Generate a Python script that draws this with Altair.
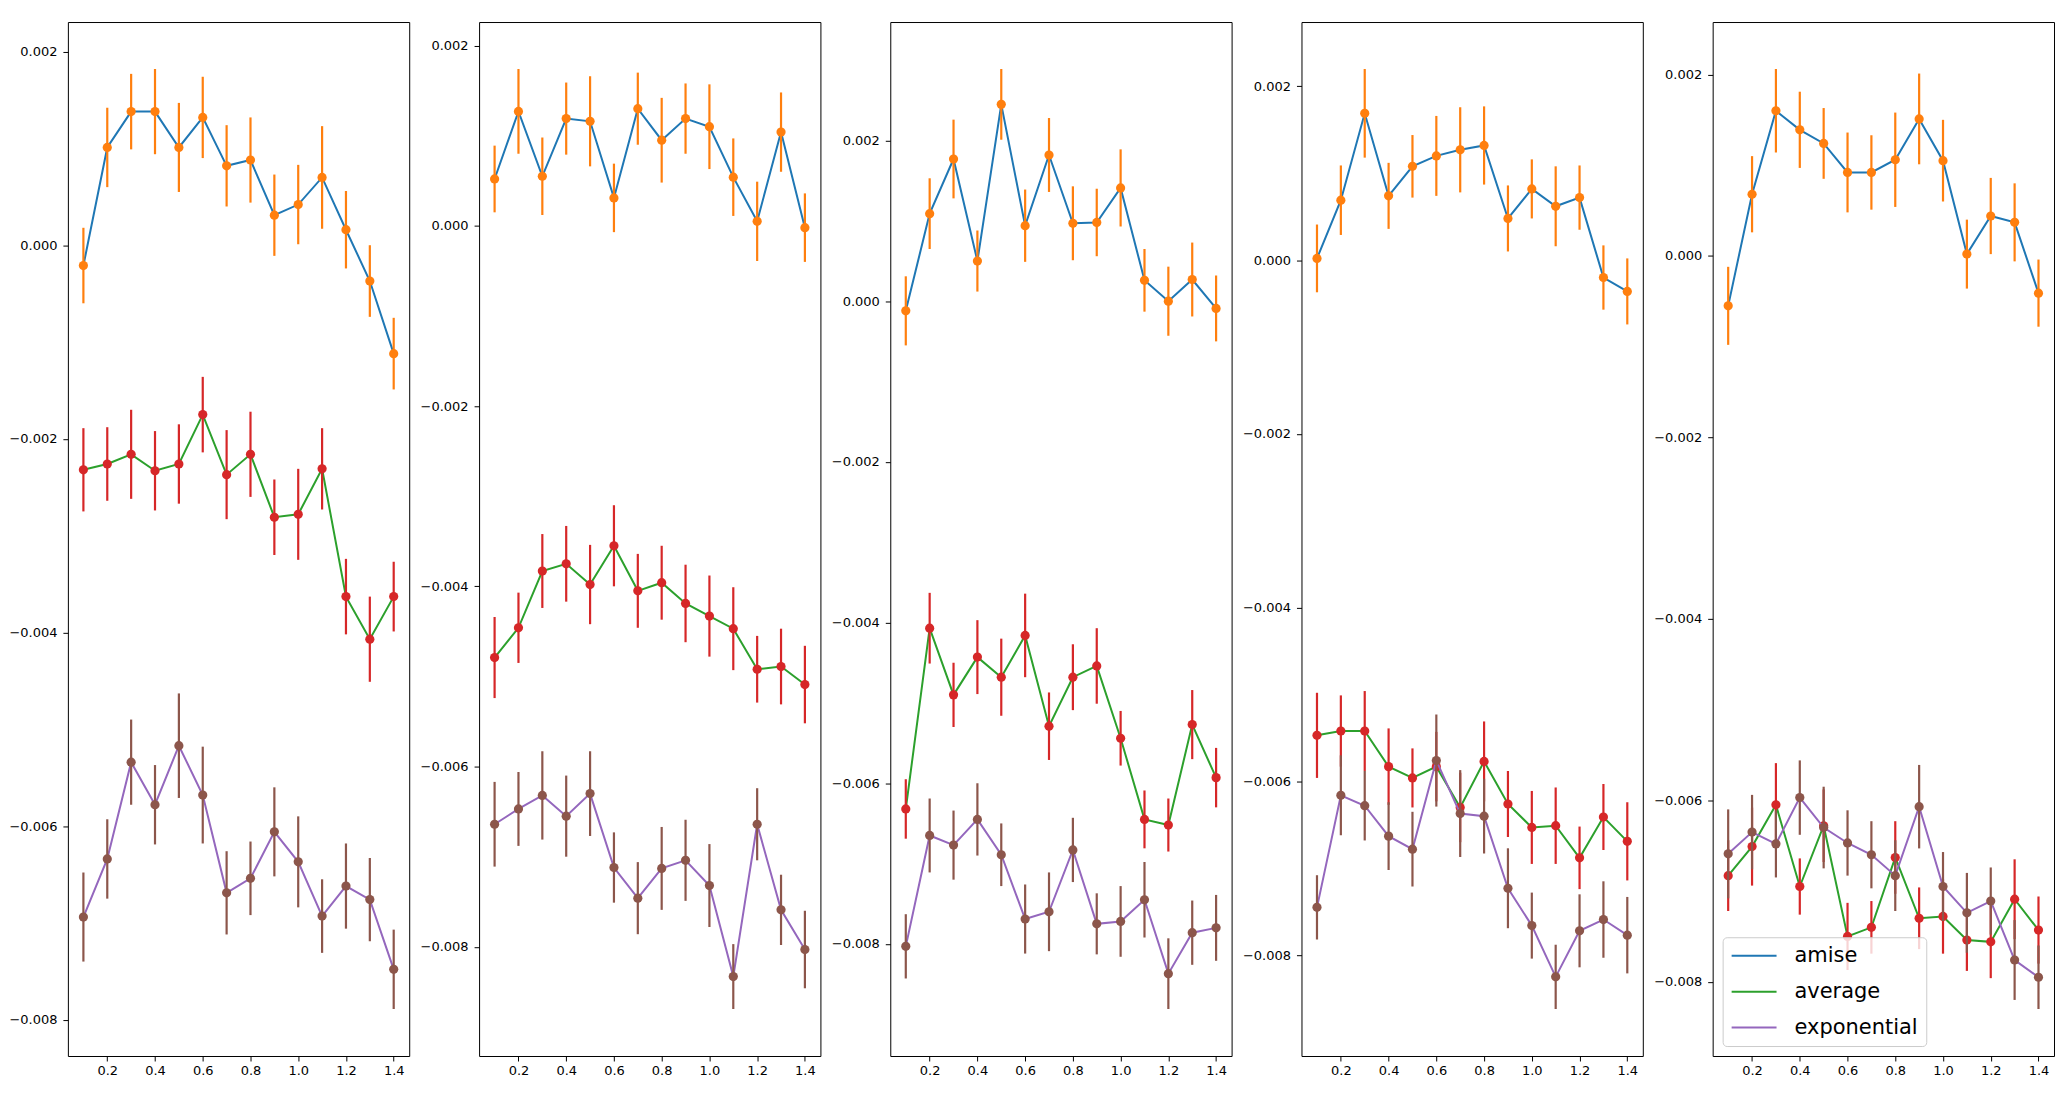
import altair as alt
import pandas as pd

X = [0.1, 0.2, 0.3, 0.4, 0.5, 0.6, 0.7, 0.8, 0.9, 1.0, 1.1, 1.2, 1.3, 1.4]
SERIES = ["amise", "average", "exponential"]
LINE_COLORS = ["#1f77b4", "#2ca02c", "#9467bd"]
POINT_COLORS = ["#ff7f0e", "#d62728", "#8c564b"]
X_TICKS = [0.2, 0.4, 0.6, 0.8, 1.0, 1.2, 1.4]
Y_TICKS = [-0.008, -0.006, -0.004, -0.002, 0.0, 0.002]

# ---- panel 1
P1_AMISE = [-0.00021, 0.00101, 0.00138, 0.00138, 0.00101, 0.00132, 0.00082, 0.00088, 0.00031, 0.00042, 0.00070, 0.00016, -0.00037, -0.00112]
P1_AMISE_ERR = [0.00039, 0.00041, 0.00039, 0.00044, 0.00046, 0.00042, 0.00042, 0.00044, 0.00042, 0.00041, 0.00053, 0.00040, 0.00037, 0.00037]
P1_AVERAGE = [-0.00232, -0.00226, -0.00216, -0.00233, -0.00226, -0.00175, -0.00237, -0.00216, -0.00281, -0.00278, -0.00231, -0.00363, -0.00407, -0.00363]
P1_AVERAGE_ERR = [0.00043, 0.00038, 0.00046, 0.00041, 0.00041, 0.00039, 0.00046, 0.00044, 0.00039, 0.00047, 0.00042, 0.00039, 0.00044, 0.00036]
P1_EXPONENTIAL = [-0.00694, -0.00634, -0.00534, -0.00578, -0.00517, -0.00568, -0.00669, -0.00654, -0.00606, -0.00637, -0.00693, -0.00662, -0.00676, -0.00748]
P1_EXPONENTIAL_ERR = [0.00046, 0.00041, 0.00044, 0.00041, 0.00054, 0.00050, 0.00043, 0.00038, 0.00046, 0.00047, 0.00038, 0.00044, 0.00043, 0.00041]

# ---- panel 2
P2_AMISE = [0.00052, 0.00127, 0.00055, 0.00119, 0.00116, 0.00031, 0.00130, 0.00095, 0.00119, 0.00110, 0.00054, 0.00005, 0.00104, -0.00002]
P2_AMISE_ERR = [0.00037, 0.00047, 0.00043, 0.00040, 0.00050, 0.00038, 0.00040, 0.00047, 0.00039, 0.00047, 0.00043, 0.00044, 0.00044, 0.00038]
P2_AVERAGE = [-0.00479, -0.00446, -0.00383, -0.00375, -0.00398, -0.00355, -0.00405, -0.00396, -0.00419, -0.00433, -0.00447, -0.00492, -0.00489, -0.00509]
P2_AVERAGE_ERR = [0.00045, 0.00039, 0.00041, 0.00042, 0.00044, 0.00045, 0.00041, 0.00041, 0.00043, 0.00045, 0.00046, 0.00037, 0.00042, 0.00043]
P2_EXPONENTIAL = [-0.00664, -0.00647, -0.00632, -0.00655, -0.00630, -0.00712, -0.00746, -0.00713, -0.00704, -0.00732, -0.00833, -0.00664, -0.00759, -0.00803]
P2_EXPONENTIAL_ERR = [0.00047, 0.00041, 0.00049, 0.00045, 0.00047, 0.00039, 0.00040, 0.00046, 0.00045, 0.00046, 0.00036, 0.00040, 0.00039, 0.00043]

# ---- panel 3
P3_AMISE = [-0.00012, 0.00109, 0.00177, 0.00050, 0.00245, 0.00094, 0.00182, 0.00097, 0.00098, 0.00141, 0.00026, 0.00000, 0.00027, -0.00009]
P3_AMISE_ERR = [0.00043, 0.00044, 0.00049, 0.00038, 0.00044, 0.00045, 0.00046, 0.00046, 0.00042, 0.00048, 0.00039, 0.00043, 0.00046, 0.00041]
P3_AVERAGE = [-0.00632, -0.00407, -0.00490, -0.00443, -0.00468, -0.00416, -0.00529, -0.00468, -0.00454, -0.00544, -0.00645, -0.00652, -0.00527, -0.00593]
P3_AVERAGE_ERR = [0.00037, 0.00044, 0.00040, 0.00046, 0.00048, 0.00052, 0.00042, 0.00041, 0.00047, 0.00034, 0.00036, 0.00033, 0.00043, 0.00037]
P3_EXPONENTIAL = [-0.00803, -0.00665, -0.00677, -0.00645, -0.00689, -0.00769, -0.00760, -0.00683, -0.00775, -0.00772, -0.00745, -0.00837, -0.00786, -0.00780]
P3_EXPONENTIAL_ERR = [0.00040, 0.00046, 0.00043, 0.00045, 0.00039, 0.00043, 0.00049, 0.00040, 0.00038, 0.00044, 0.00047, 0.00044, 0.00040, 0.00041]

# ---- panel 4
P4_AMISE = [0.00002, 0.00069, 0.00169, 0.00074, 0.00108, 0.00120, 0.00127, 0.00132, 0.00048, 0.00082, 0.00062, 0.00072, -0.00020, -0.00036]
P4_AMISE_ERR = [0.00039, 0.00040, 0.00051, 0.00038, 0.00036, 0.00046, 0.00049, 0.00045, 0.00038, 0.00034, 0.00046, 0.00037, 0.00037, 0.00038]
P4_AVERAGE = [-0.00547, -0.00542, -0.00542, -0.00583, -0.00596, -0.00583, -0.00630, -0.00577, -0.00626, -0.00653, -0.00651, -0.00688, -0.00641, -0.00669]
P4_AVERAGE_ERR = [0.00049, 0.00041, 0.00046, 0.00044, 0.00034, 0.00040, 0.00040, 0.00046, 0.00038, 0.00042, 0.00044, 0.00036, 0.00038, 0.00045]
P4_EXPONENTIAL = [-0.00745, -0.00616, -0.00628, -0.00663, -0.00678, -0.00576, -0.00637, -0.00640, -0.00723, -0.00766, -0.00825, -0.00772, -0.00759, -0.00777]
P4_EXPONENTIAL_ERR = [0.00037, 0.00046, 0.00040, 0.00039, 0.00043, 0.00053, 0.00050, 0.00043, 0.00046, 0.00038, 0.00037, 0.00042, 0.00044, 0.00044]

# ---- panel 5
P5_AMISE = [-0.00055, 0.00068, 0.00160, 0.00139, 0.00124, 0.00092, 0.00092, 0.00106, 0.00151, 0.00105, 0.00002, 0.00044, 0.00037, -0.00041]
P5_AMISE_ERR = [0.00043, 0.00042, 0.00046, 0.00042, 0.00039, 0.00044, 0.00041, 0.00052, 0.00050, 0.00045, 0.00038, 0.00042, 0.00043, 0.00037]
P5_AVERAGE = [-0.00683, -0.00651, -0.00605, -0.00695, -0.00628, -0.00750, -0.00740, -0.00663, -0.00730, -0.00728, -0.00754, -0.00756, -0.00709, -0.00743]
P5_AVERAGE_ERR = [0.00039, 0.00043, 0.00046, 0.00031, 0.00040, 0.00037, 0.00029, 0.00040, 0.00034, 0.00041, 0.00034, 0.00040, 0.00044, 0.00037]
P5_EXPONENTIAL = [-0.00659, -0.00635, -0.00648, -0.00597, -0.00630, -0.00647, -0.00660, -0.00683, -0.00607, -0.00695, -0.00724, -0.00711, -0.00776, -0.00795]
P5_EXPONENTIAL_ERR = [0.00049, 0.00041, 0.00037, 0.00041, 0.00045, 0.00036, 0.00037, 0.00039, 0.00046, 0.00038, 0.00044, 0.00037, 0.00044, 0.00035]

PANELS = [
    {"amise": (P1_AMISE, P1_AMISE_ERR), "average": (P1_AVERAGE, P1_AVERAGE_ERR), "exponential": (P1_EXPONENTIAL, P1_EXPONENTIAL_ERR)},
    {"amise": (P2_AMISE, P2_AMISE_ERR), "average": (P2_AVERAGE, P2_AVERAGE_ERR), "exponential": (P2_EXPONENTIAL, P2_EXPONENTIAL_ERR)},
    {"amise": (P3_AMISE, P3_AMISE_ERR), "average": (P3_AVERAGE, P3_AVERAGE_ERR), "exponential": (P3_EXPONENTIAL, P3_EXPONENTIAL_ERR)},
    {"amise": (P4_AMISE, P4_AMISE_ERR), "average": (P4_AVERAGE, P4_AVERAGE_ERR), "exponential": (P4_EXPONENTIAL, P4_EXPONENTIAL_ERR)},
    {"amise": (P5_AMISE, P5_AMISE_ERR), "average": (P5_AVERAGE, P5_AVERAGE_ERR), "exponential": (P5_EXPONENTIAL, P5_EXPONENTIAL_ERR)},
]

FONT = "DejaVu Sans"


def make_panel(data, show_legend):
    rows = []
    for s in SERIES:
        vals, errs = data[s]
        for x, v, e in zip(X, vals, errs):
            rows.append({"x": x, "y": v, "lo": v - e, "hi": v + e, "series": s})
    df = pd.DataFrame(rows)
    lo = df["lo"].min()
    hi = df["hi"].max()
    pad = 0.05 * (hi - lo)
    xscale = alt.Scale(domain=[0.1 - 0.065, 1.4 + 0.065], nice=False, zero=False)
    yscale = alt.Scale(domain=[lo - pad, hi + pad], nice=False, zero=False)
    xaxis = alt.Axis(values=X_TICKS, format=".1f", title=None, labelPadding=4)
    yaxis = alt.Axis(values=Y_TICKS, format=".3f", title=None, labelPadding=6)
    if show_legend:
        legend = alt.Legend(
            orient="bottom-left", offset=10, title=None,
            labelFont=FONT, labelFontSize=21, labelColor="black",
            symbolType="stroke", symbolSize=2025, symbolStrokeWidth=2,
            clipHeight=21, rowPadding=14, labelOffset=17, padding=8,
            fillColor="rgba(255,255,255,0.8)", strokeColor="#cccccc",
            cornerRadius=4,
        )
    else:
        legend = None
    layers = []
    for s, pc in zip(SERIES, POINT_COLORS):
        base = alt.Chart(df).transform_filter(alt.datum.series == s)
        line = base.mark_line(strokeWidth=2).encode(
            x=alt.X("x:Q", scale=xscale, axis=xaxis),
            y=alt.Y("y:Q", scale=yscale, axis=yaxis),
            color=alt.Color("series:N", scale=alt.Scale(domain=SERIES, range=LINE_COLORS), legend=legend),
        )
        rule = base.mark_rule(strokeWidth=2.2, color=pc).encode(
            x=alt.X("x:Q", scale=xscale, axis=xaxis),
            y=alt.Y("lo:Q", scale=yscale, axis=yaxis),
            y2="hi:Q",
        )
        pts = base.mark_circle(size=85, opacity=1, color=pc).encode(
            x=alt.X("x:Q", scale=xscale, axis=xaxis),
            y=alt.Y("y:Q", scale=yscale, axis=yaxis),
        )
        layers += [line, rule, pts]
    return alt.layer(*layers).properties(width=342, height=1036)


panels = [make_panel(p, i == len(PANELS) - 1) for i, p in enumerate(PANELS)]

chart = (
    alt.hconcat(*panels, spacing=9)
    .resolve_scale(color="independent")
    .resolve_legend(color="independent")
    .properties(padding={"left": 0, "top": 12, "right": 0, "bottom": 5}, background="white")
    .configure_view(stroke="black", strokeWidth=1)
    .configure_axis(
        labelFont=FONT, labelFontSize=13, labelColor="black",
        tickColor="black", tickSize=5, tickWidth=1,
        domain=False, grid=False,
    )
)

chart.save("out.html", embed_options={"renderer": "svg", "actions": False})
